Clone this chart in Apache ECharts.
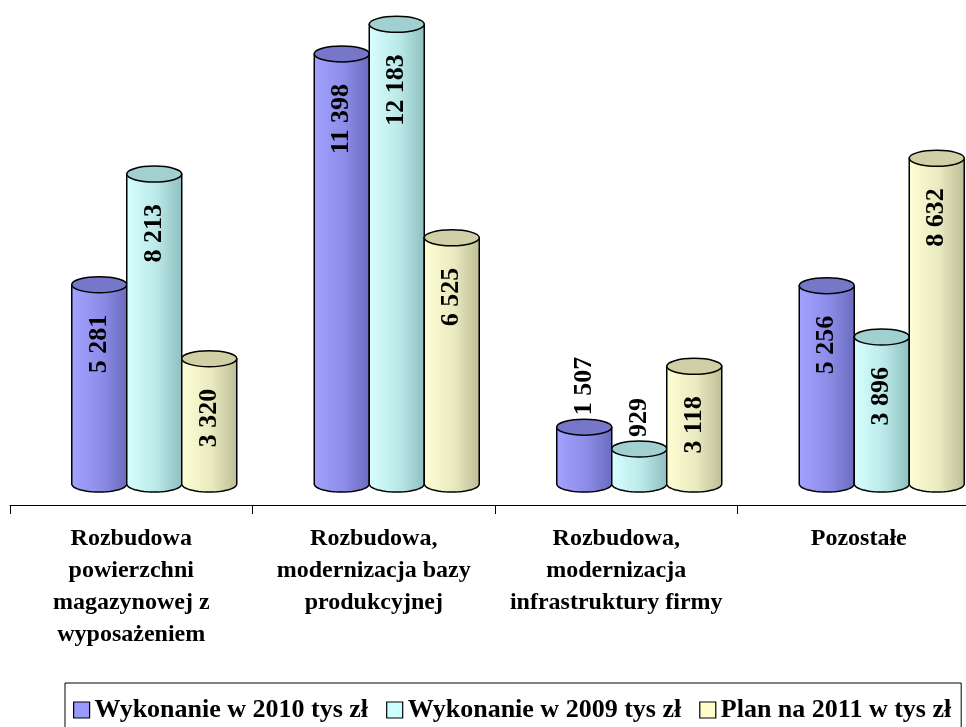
<!DOCTYPE html>
<html>
<head>
<meta charset="utf-8">
<script src="https://cdn.jsdelivr.net/npm/echarts@6/dist/echarts.min.js"></script>
<style>
  html, body { margin: 0; padding: 0; background: #ffffff; overflow: hidden; }
  /* the plot runs past the right edge of the window, so the canvas is a bit wider */
  #chart { width: 1010px; height: 727px; }
</style>
</head>
<body>
<div id="chart"></div>
<script>
// Category labels (line breaks as laid out under the axis)
const categories = [
  'Rozbudowa\npowierzchni\nmagazynowej z\nwyposażeniem',
  'Rozbudowa,\nmodernizacja bazy\nprodukcyjnej',
  'Rozbudowa,\nmodernizacja\ninfrastruktury firmy',
  'Pozostałe'
];
const seriesNames = ['Wykonanie w 2010 tys zł', 'Wykonanie w 2009 tys zł', 'Plan na 2011 w tys zł'];
const values2010 = [5281, 11398, 1507, 5256];
const values2009 = [8213, 12183, 929, 3896];
const plan2011 = [3320, 6525, 3118, 8632];

const FONT = "'Times New Roman', 'Liberation Serif', serif";

// Cylinder shading per series: body gradient and top cap colour
const shades = [
  { legend: '#9999ff', light: '#a3a3ff', mid: '#8c8ce8', dark: '#6a6abd', cap: '#7777c9' },
  { legend: '#ccffff', light: '#d8ffff', mid: '#bae8e8', dark: '#8ebebe', cap: '#a0d0d0' },
  { legend: '#ffffcc', light: '#ffffd6', mid: '#e9e9c0', dark: '#bcbc96', cap: '#d0d0a6' }
];

function fmt(n) {
  return String(n).replace(/\B(?=(\d{3})+(?!\d))/g, ' ');
}

function renderCylinder(params, api) {
  const si = params.seriesIndex;
  const cat = api.value(0);
  const v = api.value(1);
  const topPt = api.coord([cat, v]);
  const basePt = api.coord([cat, 0]);
  const band = api.size([1, 0])[0];
  const barW = band * 0.2268;
  const cx = topPt[0] + (si - 1) * barW;
  const rx = barW / 2;
  const ry = 8;
  const x0 = cx - rx, x1 = cx + rx;
  const top = topPt[1], base = basePt[1];
  const sh = shades[si];

  // body outline: straight sides plus the lower half of the base ellipse
  const pts = [[x0, top], [x0, base]];
  const steps = 24;
  for (let k = 1; k < steps; k++) {
    const a = Math.PI - (Math.PI * k) / steps;
    pts.push([cx + rx * Math.cos(a), base + ry * Math.sin(a)]);
  }
  pts.push([x1, base], [x1, top]);

  const grad = new echarts.graphic.LinearGradient(0, 0, 1, 0, [
    { offset: 0, color: sh.light },
    { offset: 0.55, color: sh.mid },
    { offset: 1, color: sh.dark }
  ]);

  const children = [
    {
      type: 'polygon',
      shape: { points: pts },
      style: { fill: grad, stroke: '#000', lineWidth: 1.5 }
    },
    {
      type: 'ellipse',
      shape: { cx: cx, cy: top, rx: rx, ry: ry },
      style: { fill: sh.cap, stroke: '#000', lineWidth: 1.5 }
    }
  ];

  const height = base - top;
  const inside = height > 90;
  children.push({
    type: 'text',
    x: cx,
    y: inside ? top + 30 : top - 12,
    rotation: Math.PI / 2,
    z2: 10,
    style: {
      text: fmt(v),
      font: 'bold 26px ' + FONT,
      fill: '#000',
      align: inside ? 'right' : 'left',
      verticalAlign: 'middle'
    }
  });

  return { type: 'group', children: children };
}

const seriesValues = [values2010, values2009, plan2011];

const chart = echarts.init(document.getElementById('chart'), null, { renderer: 'canvas' });

chart.setOption({
  backgroundColor: '#ffffff',
  animation: false,
  grid: [
    { left: 10, width: 970, top: 1, bottom: 222, outerBoundsMode: 'none' },
    { left: 33, width: 970, top: 1, bottom: 243, outerBoundsMode: 'none' }
  ],
  xAxis: [
    {
      type: 'category',
      gridIndex: 0,
      data: categories,
      boundaryGap: true,
      axisLine: { show: true, lineStyle: { color: '#000', width: 1 } },
      axisTick: { show: true, length: 9, lineStyle: { color: '#000' } },
      axisLabel: {
        interval: 0,
        margin: 18,
        color: '#000',
        fontFamily: FONT,
        fontWeight: 'bold',
        fontSize: 24,
        lineHeight: 32
      }
    },
    {
      type: 'category',
      gridIndex: 1,
      data: categories,
      show: false
    }
  ],
  yAxis: [
    { type: 'value', gridIndex: 0, show: false, min: 0, max: 12800 },
    { type: 'value', gridIndex: 1, show: false, min: 0, max: 12800, splitLine: { show: false } }
  ],
  legend: {
    left: 65,
    top: 683,
    icon: 'rect',
    itemWidth: 16,
    itemHeight: 16,
    itemGap: 18,
    padding: [14, 10, 10, 8],
    borderColor: '#000',
    borderWidth: 1,
    itemStyle: { borderColor: '#000', borderWidth: 1.2 },
    textStyle: { fontFamily: FONT, fontWeight: 'bold', fontSize: 26, color: '#000' },
    data: seriesNames
  },
  series: seriesNames.map((name, i) => ({
    name: name,
    type: 'custom',
    xAxisIndex: 1,
    yAxisIndex: 1,
    itemStyle: { color: shades[i].legend },
    renderItem: renderCylinder,
    encode: { x: 0, y: 1 },
    data: seriesValues[i].map((v, c) => [c, v])
  }))
});
</script>
</body>
</html>
